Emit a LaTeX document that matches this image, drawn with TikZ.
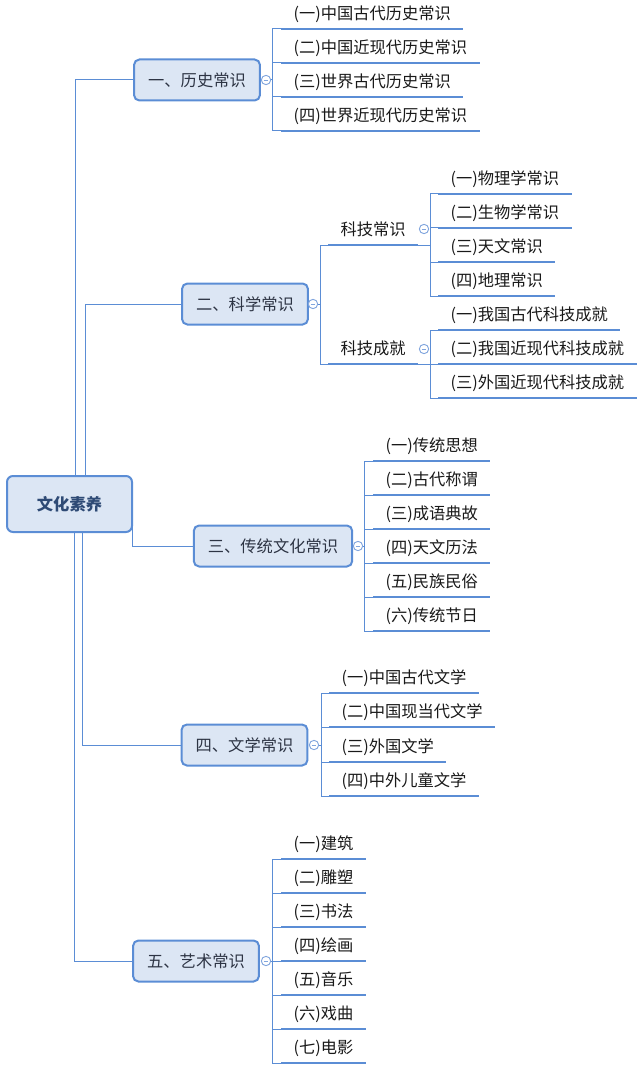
\documentclass[tikz,border=0pt]{standalone}
\usepackage{fontspec}
\setmainfont{Noto Sans CJK SC}
\usepackage{xcolor}
\usepackage{tikz}
\usetikzlibrary{positioning}

\definecolor{linecol}{RGB}{91,141,213}
\definecolor{boxfill}{RGB}{220,230,244}
\definecolor{roottext}{RGB}{46,74,117}
\definecolor{boxtext}{RGB}{45,52,68}
\definecolor{foldcol}{RGB}{130,166,222}

\begin{document}
\begin{tikzpicture}[
        x=0.75pt, y=-0.75pt,
        font=\fontsize{12.2pt}{14pt}\selectfont,
        rootbox/.style={rectangle, rounded corners=4.5pt, draw=linecol, fill=boxfill, line width=1.5pt, minimum width=93.75pt, minimum height=42pt, font=\fontsize{12.2pt}{14pt}\selectfont\bfseries, text=roottext},
        topic/.style={rectangle, rounded corners=4pt, draw=linecol, fill=boxfill, line width=1.5pt, minimum height=30.75pt, inner xsep=10.6pt, text=boxtext},
        uline/.style={draw=linecol, line width=1.8pt},
        leaf/.style={anchor=south west, inner xsep=9.2pt, inner ysep=0pt, text height=10pt, text depth=6.6pt, text=black!90,
            append after command={(\tikzlastnode.south west) edge[uline] (\tikzlastnode.south east)}},
        conn/.style={draw=linecol, line width=0.75pt},
        fold/.style={circle, draw=foldcol, fill=white, line width=0.7pt, minimum size=7pt, inner sep=0pt,
            path picture={\draw[foldcol, line width=0.7pt] ([xshift=-1.8pt]path picture bounding box.center) -- ([xshift=1.8pt]path picture bounding box.center);}}
    ]
        \useasboundingbox (0,0) rectangle (640,1066);

        % root and main topics
        \node[rootbox] (root) at (69.5,504) {文化素养};
        \node[topic] (hist) at (197,80) {一、历史常识};
        \node[topic] (sci) at (245,304) {二、科学常识};
        \node[topic] (trad) at (273,546) {三、传统文化常识};
        \node[topic] (lit) at (244.5,745) {四、文学常识};
        \node[topic] (art) at (196,961) {五、艺术常识};

        \node[fold] (hist_f) at (266,80) {};
        \node[fold] (sci_f) at (313,304) {};
        \node[fold] (trad_f) at (358,546) {};
        \node[fold] (lit_f) at (314,745) {};
        \node[fold] (art_f) at (266,961) {};

        % 历史常识
        \node[leaf] (hist1) at (281,29) {(一)中国古代历史常识};
        \node[leaf] (hist2) at (281,63) {(二)中国近现代历史常识};
        \node[leaf] (hist3) at (281,97) {(三)世界古代历史常识};
        \node[leaf] (hist4) at (281,131) {(四)世界近现代历史常识};

        % 科学常识
        \node[leaf] (tech) at (328,245) {科技常识};
        \node[leaf] (achv) at (328,364) {科技成就};
        \node[fold] (tech_f) at (424,229) {};
        \node[fold] (achv_f) at (424,349) {};

        \node[leaf] (tech1) at (438,194) {(一)物理学常识};
        \node[leaf] (tech2) at (438,228) {(二)生物学常识};
        \node[leaf] (tech3) at (438,262) {(三)天文常识};
        \node[leaf] (tech4) at (438,296) {(四)地理常识};
        \node[leaf] (achv1) at (438,330) {(一)我国古代科技成就};
        \node[leaf] (achv2) at (438,364) {(二)我国近现代科技成就};
        \node[leaf] (achv3) at (438,398) {(三)外国近现代科技成就};

        % 传统文化常识
        \node[leaf] (trad1) at (373,461) {(一)传统思想};
        \node[leaf] (trad2) at (373,495) {(二)古代称谓};
        \node[leaf] (trad3) at (373,529) {(三)成语典故};
        \node[leaf] (trad4) at (373,563) {(四)天文历法};
        \node[leaf] (trad5) at (373,597) {(五)民族民俗};
        \node[leaf] (trad6) at (373,631) {(六)传统节日};

        % 文学常识
        \node[leaf] (lit1) at (329,693) {(一)中国古代文学};
        \node[leaf] (lit2) at (329,727) {(二)中国现当代文学};
        \node[leaf] (lit3) at (329,762) {(三)外国文学};
        \node[leaf] (lit4) at (329,796) {(四)中外儿童文学};

        % 艺术常识
        \node[leaf] (art1) at (281,859) {(一)建筑};
        \node[leaf] (art2) at (281,893) {(二)雕塑};
        \node[leaf] (art3) at (281,927) {(三)书法};
        \node[leaf] (art4) at (281,961) {(四)绘画};
        \node[leaf] (art5) at (281,995) {(五)音乐};
        \node[leaf] (art6) at (281,1029) {(六)戏曲};
        \node[leaf] (art7) at (281,1063) {(七)电影};

        % junction points
        \coordinate (r1) at (75,476);
        \coordinate (r2) at (85,476);
        \coordinate (r3) at (132,524);
        \coordinate (r4) at (82,532);
        \coordinate (r5) at (74,532);
        \coordinate (hist_v) at (272,80);
        \coordinate (sci_v) at (320,304);
        \coordinate (tech_v) at (430,245);
        \coordinate (achv_v) at (430,364);
        \coordinate (trad_v) at (364,546);
        \coordinate (lit_v) at (321,745);
        \coordinate (art_v) at (272,961);

        \draw[conn] (r1) |- (hist.west);
        \draw[conn] (r2) |- (sci.west);
        \draw[conn] (r3) |- (trad.west);
        \draw[conn] (r4) |- (lit.west);
        \draw[conn] (r5) |- (art.west);

        \draw[conn] (hist_f.east) -- (hist_v) |- (hist1.south west);
        \draw[conn] (hist_v) |- (hist2.south west);
        \draw[conn] (hist_v) |- (hist3.south west);
        \draw[conn] (hist_v) |- (hist4.south west);

        \draw[conn] (sci_f.east) -- (sci_v) |- (tech.south west);
        \draw[conn] (sci_v) |- (achv.south west);
        \draw[conn] (tech.south east) -- (tech_v) |- (tech1.south west);
        \draw[conn] (tech_v) |- (tech2.south west);
        \draw[conn] (tech_v) |- (tech3.south west);
        \draw[conn] (tech_v) |- (tech4.south west);
        \draw[conn] (achv.south east) -- (achv_v) |- (achv1.south west);
        \draw[conn] (achv_v) |- (achv2.south west);
        \draw[conn] (achv_v) |- (achv3.south west);

        \draw[conn] (trad_f.east) -- (trad_v) |- (trad1.south west);
        \draw[conn] (trad_v) |- (trad2.south west);
        \draw[conn] (trad_v) |- (trad3.south west);
        \draw[conn] (trad_v) |- (trad4.south west);
        \draw[conn] (trad_v) |- (trad5.south west);
        \draw[conn] (trad_v) |- (trad6.south west);

        \draw[conn] (lit_f.east) -- (lit_v) |- (lit1.south west);
        \draw[conn] (lit_v) |- (lit2.south west);
        \draw[conn] (lit_v) |- (lit3.south west);
        \draw[conn] (lit_v) |- (lit4.south west);

        \draw[conn] (art_f.east) -- (art_v) |- (art1.south west);
        \draw[conn] (art_v) |- (art2.south west);
        \draw[conn] (art_v) |- (art3.south west);
        \draw[conn] (art_v) |- (art4.south west);
        \draw[conn] (art_v) |- (art5.south west);
        \draw[conn] (art_v) |- (art6.south west);
        \draw[conn] (art_v) |- (art7.south west);

    \end{tikzpicture}
\end{document}
